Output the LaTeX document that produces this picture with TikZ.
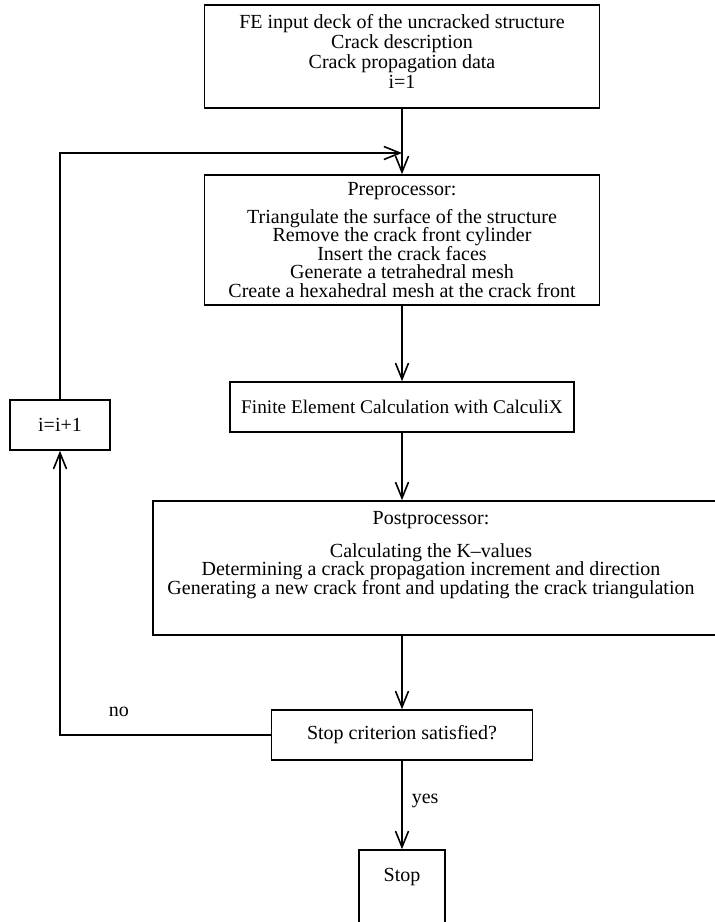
\documentclass[tikz,border=0pt]{standalone}
\usepackage{fontspec}
\setmainfont{Liberation Serif}
\usetikzlibrary{arrows.meta}

\begin{document}
\begin{tikzpicture}[x=1pt, y=-1pt,
    stepbox/.style ={rectangle, draw, line width=1.6pt, inner sep=0pt, align=center,
                     font=\fontsize{20}{18.5}\selectfont},
    flow/.style ={line width=1.6pt, -{Straight Barb[length=16pt,width=13pt,line width=1.6pt]}},
    tag/.style ={inner sep=0pt, font=\fontsize{20}{18.5}\selectfont}]
   \fill[white] (0,0) rectangle (715,922);
   \useasboundingbox (0,0) rectangle (715,922);
   \node[stepbox, minimum width=395pt, minimum height=103pt] (input) at (402,56.5)
     {FE input deck of the uncracked structure\\[1.5pt]
      Crack description\hspace*{8pt}\\[1.5pt]
      Crack propagation data\\[1.5pt]
      i=1\\[-8.5pt]
      \mbox{}};
   \node[stepbox, minimum width=395pt, minimum height=130pt] (preproc) at (402,240)
     {Preprocessor:\\[9.5pt]
      Triangulate the surface of the structure\\
      Remove the crack front cylinder\\
      Insert the crack faces\\
      Generate a tetrahedral mesh\\
      Create a hexahedral mesh at the crack front};
   \node[stepbox, minimum width=344pt, minimum height=50pt,
         font=\fontsize{19.3}{18.5}\selectfont] (fe) at (402,407)
     {Finite Element Calculation with CalculiX};
   \node[stepbox, minimum width=577pt, minimum height=134pt] (post) at (441.5,568)
     {\hspace*{-21pt}Postprocessor:\\[14pt]
      \hspace*{-21pt}Calculating the K--values\\
      \hspace*{-21pt}Determining a crack propagation increment and direction\\
      \hspace*{-21pt}Generating a new crack front and updating the crack triangulation\\[12pt]
      \mbox{}};
   \node[stepbox, minimum width=261pt, minimum height=50pt] (check) at (402,735)
     {Stop criterion satisfied?};
   \node[stepbox, minimum width=100pt, minimum height=50pt] (incr) at (60,425) {i=i+1};
   \node[stepbox, minimum width=86pt, minimum height=80pt] (stop) at (402,890)
     {Stop\\[12pt]\mbox{}};
   \coordinate (merge) at (402,153);
   % main flow
   \draw[flow] (input) -- (preproc);
   \draw[flow] (preproc) -- (fe);
   \draw[flow] (fe) -- (fe |- post.north);
   \draw[flow] (post.south -| check) -- (check);
   \draw[flow] (check) -- node[tag, pos=0.45, right=9pt] {yes} (stop);
   % loop back
   \draw[flow] (check) -| node[tag, pos=0.36, above=18pt] {no} (incr);
   \draw[flow] (incr) |- (merge);
\end{tikzpicture}
\end{document}
